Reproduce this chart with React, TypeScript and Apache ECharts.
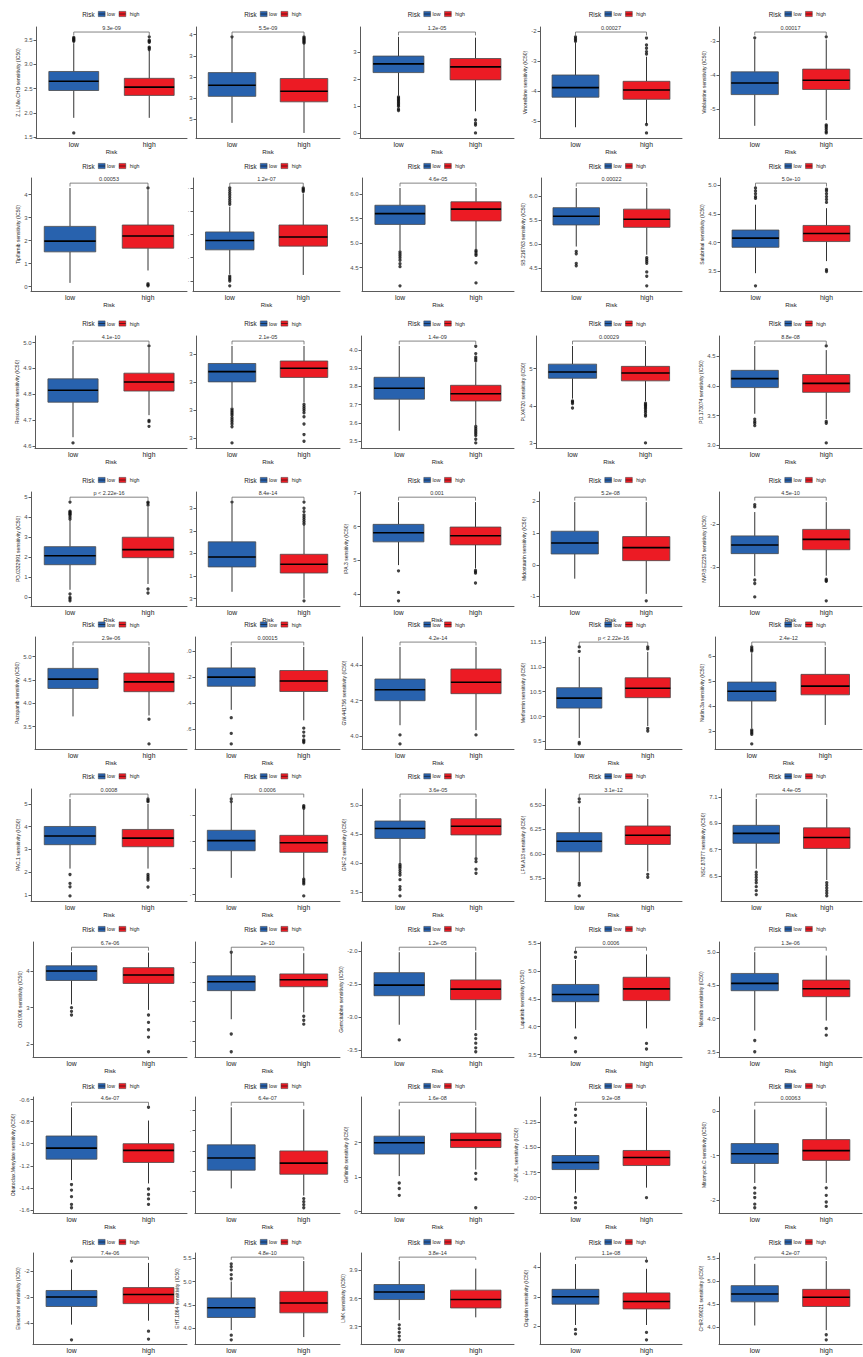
import React, { useEffect, useRef } from "react";
import * as echarts from "echarts";

const BLUE = "#2862AE";
const RED = "#EC1B24";
const FONT = "Liberation Sans, Arial, sans-serif";

const drugNames: string[] = [
  "Z.LLNle.CHO sensitivity (IC50)", "", "", "Vinorelbine sensitivity (IC50)", "Vinblastine sensitivity (IC50)",
  "Tipifarnib sensitivity (IC50)", "", "", "SB.216763 sensitivity (IC50)", "Salubrinal sensitivity (IC50)",
  "Roscovitine sensitivity (IC50)", "", "", "PLX4720 sensitivity (IC50)", "PD.173074 sensitivity (IC50)",
  "PD.0332991 sensitivity (IC50)", "", "IPA.3 sensitivity (IC50)", "Midostaurin sensitivity (IC50)", "NVP.BEZ235 sensitivity (IC50)",
  "Pazopanib sensitivity (IC50)", "", "GW.441756 sensitivity (IC50)", "Metformin sensitivity (IC50)", "Nutlin.3a sensitivity (IC50)",
  "PAC.1 sensitivity (IC50)", "", "GNF.2 sensitivity (IC50)", "LFM.A13 sensitivity (IC50)", "NSC.87877 sensitivity (IC50)",
  "OSI.906 sensitivity (IC50)", "", "Gemcitabine sensitivity (IC50)", "Lapatinib sensitivity (IC50)", "Nilotinib sensitivity (IC50)",
  "Obatoclax.Mesylate sensitivity (IC50)", "", "Gefitinib sensitivity (IC50)", "JNK.9L sensitivity (IC50)", "Mitomycin.C sensitivity (IC50)",
  "Elesclomol sensitivity (IC50)", "EHT.1864 sensitivity (IC50)", "LMK sensitivity (IC50)", "Cisplatin sensitivity (IC50)", "CHIR.99021 sensitivity (IC50)",
];

const pValues: string[] = [
  "9.3e-09", "5.5e-09", "1.2e-05", "0.00027", "0.00017",
  "0.00053", "1.2e-07", "4.6e-05", "0.00022", "5.0e-10",
  "4.1e-10", "2.1e-05", "1.4e-09", "0.00029", "8.8e-08",
  "p < 2.22e-16", "8.4e-14", "0.001", "5.2e-08", "4.5e-10",
  "2.9e-06", "0.00015", "4.2e-14", "p < 2.22e-16", "2.4e-12",
  "0.0008", "0.0006", "3.6e-05", "3.1e-12", "4.4e-05",
  "6.7e-06", "2e-10", "1.2e-05", "0.0006", "1.3e-06",
  "4.6e-07", "6.4e-07", "1.6e-08", "9.2e-08", "0.00063",
  "7.4e-06", "4.8e-10", "3.8e-14", "1.1e-08", "4.2e-07",
];

// [lower whisker, Q1, median, Q3, upper whisker]
const lowBox: number[][] = [
  [1.90, 2.46, 2.65, 2.85, 3.43], [0.81, 2.07, 2.6, 3.2, 4.85], [1.4, 2.25, 2.57, 2.86, 3.57], [-5.21, -4.21, -3.89, -3.47, -2.4], [-5.49, -4.57, -4.23, -3.9, -2.95],
  [0.16, 1.51, 1.98, 2.62, 4.29], [1.29, 2.34, 2.74, 3.11, 4.2], [4.85, 5.38, 5.6, 5.77, 6.12], [4.95, 5.4, 5.58, 5.76, 6.17], [3.47, 3.92, 4.08, 4.22, 4.66],
  [4.635, 4.77, 4.816, 4.86, 4.987], [2.1, 3.01, 3.38, 3.67, 4.3], [3.557, 3.73, 3.79, 3.85, 4.022], [4.19, 4.74, 4.91, 5.12, 5.61], [3.53, 3.97, 4.12, 4.26, 4.67],
  [0.38, 1.63, 2.08, 2.53, 3.85], [1.3, 2.4, 2.84, 3.51, 5.2], [4.86, 5.55, 5.82, 6.07, 6.73], [-0.44, 0.34, 0.69, 1.06, 1.98], [-3.2, -2.68, -2.48, -2.27, -1.72],
  [3.72, 4.32, 4.52, 4.75, 5.21], [-0.45, -0.27, -0.2, -0.13, 0.03], [4.061, 4.2, 4.262, 4.323, 4.505], [9.57, 10.17, 10.37, 10.58, 11.2], [3.11, 4.2, 4.59, 4.96, 6.12],
  [2.16, 3.21, 3.59, 4.01, 5.22], [1.63, 2.65, 3.03, 3.42, 4.45], [4.0, 4.43, 4.6, 4.73, 5.11], [5.72, 6.02, 6.128, 6.216, 6.48], [6.556, 6.749, 6.824, 6.885, 7.085],
  [3.09, 3.74, 4.0, 4.14, 4.51], [4.2, 7.1, 8.0, 8.6, 10.9], [-3.12, -2.68, -2.52, -2.33, -2.02], [3.97, 4.45, 4.58, 4.76, 5.2], [3.82, 4.42, 4.53, 4.68, 5.0],
  [-1.33, -1.14, -1.04, -0.93, -0.67], [2.3, 4.1, 5.3, 6.6, 10.3], [1.03, 1.67, 2.0, 2.19, 2.97], [-1.95, -1.72, -1.65, -1.58, -1.3], [-1.62, -1.18, -0.96, -0.73, 0.04],
  [-4.05, -3.36, -3.0, -2.75, -1.95], [3.96, 4.23, 4.44, 4.65, 5.0], [3.37, 3.59, 3.67, 3.75, 4.0], [2.05, 2.75, 3.0, 3.25, 4.1], [4.04, 4.55, 4.72, 4.9, 5.37],
];

const highBox: number[][] = [
  [1.90, 2.36, 2.53, 2.71, 3.28], [0.33, 1.81, 2.31, 2.92, 4.55], [0.82, 1.98, 2.46, 2.77, 3.54], [-5.1, -4.28, -3.97, -3.68, -2.86], [-5.32, -4.42, -4.15, -3.82, -2.95],
  [0.7, 1.67, 2.2, 2.68, 4.2], [1.26, 2.5, 2.89, 3.41, 4.76], [4.88, 5.45, 5.69, 5.84, 6.12], [4.78, 5.35, 5.52, 5.73, 6.17], [3.68, 4.02, 4.16, 4.3, 4.6],
  [4.72, 4.813, 4.848, 4.882, 4.981], [2.27, 3.17, 3.5, 3.76, 4.3], [3.587, 3.72, 3.76, 3.806, 3.93], [4.12, 4.67, 4.88, 5.06, 5.61], [3.44, 3.89, 4.04, 4.19, 4.6],
  [0.67, 1.98, 2.38, 3.0, 4.5], [1.0, 2.13, 2.52, 2.96, 4.25], [4.76, 5.46, 5.73, 5.99, 6.73], [-0.92, 0.13, 0.54, 0.89, 1.98], [-3.19, -2.59, -2.35, -2.12, -1.49],
  [3.74, 4.25, 4.46, 4.65, 5.21], [-0.53, -0.31, -0.23, -0.15, 0.03], [4.033, 4.24, 4.305, 4.38, 4.505], [9.81, 10.38, 10.57, 10.78, 11.3], [3.24, 4.45, 4.8, 5.27, 6.37],
  [2.16, 3.12, 3.5, 3.88, 5.0], [1.61, 2.59, 2.95, 3.23, 4.2], [4.11, 4.49, 4.64, 4.77, 5.11], [5.82, 6.095, 6.19, 6.284, 6.56], [6.47, 6.71, 6.793, 6.866, 7.085],
  [2.94, 3.66, 3.89, 4.09, 4.5], [4.9, 7.5, 8.2, 8.8, 10.9], [-3.2, -2.74, -2.58, -2.44, -2.02], [3.97, 4.47, 4.68, 4.89, 5.3], [3.97, 4.33, 4.45, 4.58, 4.95],
  [-1.36, -1.17, -1.06, -1.0, -0.79], [1.6, 3.7, 4.8, 6.0, 10.1], [1.22, 1.86, 2.08, 2.28, 3.03], [-1.9, -1.68, -1.6, -1.53, -1.1], [-1.62, -1.11, -0.89, -0.64, 0.09],
  [-3.9, -3.25, -2.9, -2.64, -1.7], [3.81, 4.33, 4.54, 4.79, 5.44], [3.4, 3.5, 3.59, 3.69, 3.92], [2.05, 2.59, 2.84, 3.13, 3.94], [3.94, 4.45, 4.65, 4.82, 5.43],
];

const lowOut: number[][] = [
  [3.47, 3.49, 3.51, 3.53, 3.55, 1.59], [4.9], [1.35, 1.3, 1.25, 1.2, 1.15, 1.1, 1.05, 1.0, 0.9, 0.85], [-2.2, -2.25, -2.3, -2.35], [-2.9],
  [], [5.0, 4.9, 4.8, 4.7, 4.6, 4.5, 4.4, 4.3, 1.21, 1.14, 1.07, 1.0, 0.79], [4.82, 4.78, 4.74, 4.7, 4.65, 4.58, 4.52, 4.13], [4.85, 4.8, 4.6, 4.55], [4.95, 4.9, 4.85, 4.8, 4.77, 3.25],
  [4.613], [2.04, 1.98, 1.92, 1.86, 1.8, 1.72, 1.65, 1.58, 1.5, 1.4, 0.82], [], [4.13, 4.1, 4.06, 3.94], [3.44, 3.4, 3.37, 3.33],
  [4.75, 4.3, 4.25, 4.2, 4.15, 4.1, 4.0, 3.9, 0.17, 0.0, -0.08, -0.17], [5.27], [4.69, 4.05, 3.8], [], [-1.55, -1.6, -3.29, -3.37, -3.68],
  [], [-0.51, -0.63, -0.71], [4.006, 3.955], [11.4, 11.31, 9.48, 9.45], [6.37, 6.3, 6.25, 6.2, 3.04, 2.98, 2.92, 2.86, 2.48],
  [1.9, 1.51, 1.36, 0.96], [4.6, 4.5], [3.98, 3.95, 3.92, 3.88, 3.84, 3.8, 3.72, 3.6, 3.55, 3.44], [6.56, 6.53, 5.7, 5.68, 5.57], [6.53, 6.51, 6.49, 6.47, 6.45, 6.42, 6.39, 6.36],
  [3.0, 2.9, 2.8], [11.0, 2.7, 0.9], [-3.35], [5.25, 5.34, 3.8, 3.55], [3.67, 3.5],
  [-1.37, -1.42, -1.48, -1.55, -1.58], [], [0.83, 0.67, 0.47], [-1.12, -1.18, -1.25, -2.0, -2.05, -2.1], [-1.73, -1.85, -1.95, -2.1, -2.18],
  [-1.63, -4.63], [5.06, 5.15, 5.25, 5.32, 5.38, 3.85, 3.75], [3.32, 3.28, 3.24, 3.2, 3.16], [1.9, 1.75], [],
];

const highOut: number[][] = [
  [3.30, 3.33, 3.35, 3.45, 3.47, 3.49, 3.56], [4.6, 4.65, 4.7, 4.75, 4.8, 4.85, 4.9], [0.5, 0.38, 0.31, 0.02], [-2.24, -2.47, -2.58, -2.69, -2.77, -5.12, -5.4], [-2.87, -5.46, -5.5, -5.55, -5.6, -5.66, -5.7],
  [4.29, 0.12, 0.07, 0.03], [5.0, 4.95, 4.9, 4.85], [4.85, 4.82, 4.78, 4.75, 4.6, 4.19], [4.72, 4.68, 4.64, 4.6, 4.42, 4.33, 4.13], [4.93, 4.9, 4.85, 4.8, 4.75, 4.7, 3.53, 3.5],
  [4.987, 4.7, 4.695, 4.677], [2.2, 2.12, 2.05, 1.98, 1.9, 1.76, 1.5, 1.12, 0.88], [4.02, 3.98, 3.96, 3.95, 3.94, 3.58, 3.57, 3.56, 3.55, 3.54, 3.53, 3.51, 3.49], [4.07, 4.03, 4.0, 3.96, 3.92, 3.87, 3.82, 3.76, 3.72, 3.0], [4.67, 3.4, 3.37, 3.04],
  [4.75, 4.7, 4.6, 0.42, 0.22], [5.27, 5.0, 4.85, 4.7, 4.6, 4.5, 4.4, 4.3, 0.9], [4.7, 4.66, 4.62, 4.33], [-1.14], [-3.27, -3.3, -3.32, -3.77],
  [3.66, 3.13], [-0.59, -0.62, -0.65, -0.68, -0.69, -0.7], [4.006], [11.4, 11.36, 9.76, 9.71], [],
  [5.22, 5.15, 5.1, 1.9, 1.82, 1.74, 1.66, 1.35], [4.35, 4.3, 4.25, 1.58, 1.52, 1.46, 1.4, 0.95], [4.08, 4.03, 3.9, 3.83], [5.79, 5.76], [6.45, 6.43, 6.41, 6.39, 6.37, 6.35],
  [2.8, 2.6, 2.4, 2.2, 1.8], [4.5, 4.1, 3.7], [-3.27, -3.33, -3.4, -3.47, -3.53], [3.7, 3.6], [3.85, 3.75],
  [-0.67, -1.41, -1.46, -1.5, -1.55], [1.3, 1.0, 0.7, 0.4], [1.11, 0.94, 0.11], [-2.0], [-1.73, -1.9, -2.05, -2.15],
  [-4.3, -4.6], [], [], [4.2, 1.8, 1.55], [3.84, 3.73],
];

const yTicks: number[][] = [
  [1.5, 2.0, 2.5, 3.0, 3.5], [1, 2, 3, 4, 5], [0, 1, 2, 3], [-5, -4, -3, -2], [-5, -4, -3],
  [0, 1, 2, 3, 4], [1, 2, 3, 4, 5], [4.5, 5.0, 5.5, 6.0], [4.5, 5.0, 5.5, 6.0], [3.5, 4.0, 4.5, 5.0],
  [4.6, 4.7, 4.8, 4.9, 5.0], [1, 2, 3, 4], [3.5, 3.6, 3.7, 3.8, 3.9, 4.0], [3, 4, 5], [3.0, 3.5, 4.0, 4.5],
  [0, 1, 2, 3, 4, 5], [1, 2, 3, 4, 5], [4, 5, 6, 7], [-1, 0, 1, 2], [-3, -2],
  [3.5, 4.0, 4.5, 5.0], [-0.6, -0.4, -0.2, 0.0], [4.0, 4.2, 4.4], [9.5, 10.0, 10.5, 11.0, 11.5], [3, 4, 5, 6],
  [1, 2, 3, 4, 5], [1, 2, 3, 4], [3.5, 4.0, 4.5, 5.0], [5.75, 6.0, 6.25, 6.5], [6.5, 6.7, 6.9, 7.1],
  [2, 3, 4], [2, 4, 6, 8, 10], [-3.5, -3.0, -2.5, -2.0], [3.5, 4.0, 4.5, 5.0, 5.5], [3.5, 4.0, 4.5, 5.0],
  [-1.6, -1.4, -1.2, -1.0, -0.8, -0.6], [2, 4, 6, 8, 10], [0, 1, 2], [-2.0, -1.75, -1.5, -1.25], [-2, -1, 0],
  [-4, -3, -2], [4.0, 4.5, 5.0, 5.5], [3.3, 3.6, 3.9], [2, 3, 4], [4.0, 4.5, 5.0, 5.5],
];

const yTickText: string[][] = [
  ["1.5", "2.0", "2.5", "3.0", "3.5"], ["5", "3", "3", "3", "4"], ["0", "1", "2", "3"], ["-5", "-4", "-3", "-2"], ["-5", "-4", "-3"],
  ["0", "1", "2", "3", "4"], ["·", "·", "·", "·", "·"], ["4.5", "5.0", "5.5", "6.0"], ["4.5", "5.0", "5.5", "6.0"], ["3.5", "4.0", "4.5", "5.0"],
  ["4.6", "4.7", "4.8", "4.9", "5.0"], ["3", "3", "3", "3"], ["3.5", "3.6", "3.7", "3.8", "3.9", "4.0"], ["3", "4", "5"], ["3.0", "3.5", "4.0", "4.5"],
  ["0", "1", "2", "3", "4", "5"], ["3", "1", "3", "3", "3"], ["4", "5", "6", "7"], ["-1", "0", "1", "2"], ["-3", "-2"],
  ["3.5", "4.0", "4.5", "5.0"], [".6", ".4", ".2", ".0"], ["4.0", "4.2", "4.4"], ["9.5", "10.0", "10.5", "11.0", "11.5"], ["3", "4", "5", "6"],
  ["1", "2", "3", "4", "5"], ["·", "·", "·", "·"], ["3.5", "4.0", "4.5", "5.0"], ["5.75", "6.00", "6.25", "6.50"], ["6.5", "6.7", "6.9", "7.1"],
  ["2", "3", "4"], ["·", "·", "·", "·", "·"], ["-3.5", "-3.0", "-2.5", "-2.0"], ["3.5", "4.0", "4.5", "5.0", "5.5"], ["3.5", "4.0", "4.5", "5.0"],
  ["-1.6", "-1.4", "-1.2", "-1.0", "-0.8", "-0.6"], ["·", "·", "·", "·", "·"], ["0", "1", "2"], ["-2.00", "-1.75", "-1.50", "-1.25"], ["-2", "-1", "0"],
  ["-4", "-3", "-2"], ["4.0", "4.5", "5.0", "5.5"], ["3.3", "3.6", "3.9"], ["2", "3", "4"], ["4.0", "4.5", "5.0", "5.5"],
];

const categories = ["low", "high"];

// layout
const colRight = [187, 340, 514, 682, 862];
const legendCX = [110.5, 272.5, 436, 617, 797];
const titleX = [20, 182, 346, 526, 705];
const rowLegendY = [14, 166, 323.5, 480, 624.5, 776.3, 929, 1086, 1242];
const rowTop = [27, 178, 336, 492, 637, 789, 942, 1097, 1253];
const rowBottom = [138, 291, 448, 606, 749, 901, 1057, 1213, 1344];
const gridLeft = [
  [36, 196, 360, 540, 719],
  [31, 193, 362, 541, 720],
  [35, 196, 361, 536, 719],
  [31, 196, 360, 539, 719],
  [35, 195, 362, 545, 715],
  [31, 195, 362, 545, 721],
  [33, 195, 361, 540, 719],
  [33, 195, 361, 540, 719],
  [33, 195, 361, 540, 719],
];

function buildOption() {
  const grid: any[] = [];
  const xAxis: any[] = [];
  const yAxis: any[] = [];
  const series: any[] = [];
  const graphic: any[] = [];
  const axisColor = "#5a5a5a";
  const lastRow = rowTop.length - 1;

  for (let i = 0; i < drugNames.length; i++) {
    const r = Math.floor(i / 5);
    const c = i % 5;
    const left = gridLeft[r][c];
    const right = colRight[c];
    const top = rowTop[r];
    const bottom = rowBottom[r];
    grid.push({ left, top, width: right - left, height: bottom - top, outerBoundsMode: "none", containLabel: false });

    const all = [...lowBox[i], ...highBox[i], ...lowOut[i], ...highOut[i]];
    const dmin = Math.min(...all);
    const dmax = Math.max(...all);
    const by = dmax + 0.05 * (dmax - dmin);
    const span = by - dmin;
    const amin = dmin - 0.05 * span;
    const amax = by + 0.05 * span;
    const tip = 0.03 * (amax - amin);

    const ticks = yTicks[i];
    const texts = yTickText[i];

    xAxis.push({
      gridIndex: i,
      type: "category",
      data: categories,
      boundaryGap: true,
      axisLine: { onZero: false, lineStyle: { color: axisColor, width: 1 } },
      axisTick: { alignWithLabel: true, length: 2.5, lineStyle: { color: axisColor } },
      axisLabel: { fontSize: 6.8, color: "#1a1a1a", margin: 3, fontFamily: FONT },
      // the bottom row's axis title falls below the page edge in the reference
      name: r === lastRow ? "" : "Risk",
      nameLocation: "middle",
      nameGap: 10,
      nameTextStyle: { fontSize: 6, color: "#1a1a1a", fontFamily: FONT },
    });

    yAxis.push({
      gridIndex: i,
      type: "value",
      min: amin,
      max: amax,
      splitLine: { show: false },
      axisLine: { show: true, onZero: false, lineStyle: { color: axisColor, width: 1 } },
      axisTick: { show: true, length: 2.5, customValues: ticks, lineStyle: { color: axisColor } },
      axisLabel: {
        fontSize: 6,
        color: "#4d4d4d",
        margin: 3.5,
        fontFamily: FONT,
        customValues: ticks,
        formatter: (v: number) => {
          const k = ticks.findIndex((t) => Math.abs(t - v) < 1e-7);
          return k >= 0 ? texts[k] : "";
        },
      },
      name: drugNames[i],
      nameLocation: "middle",
      nameRotate: 90,
      nameGap: Math.max(4, left - titleX[c] - 2.5),
      nameTextStyle: { fontSize: 5, color: "#1a1a1a", fontFamily: FONT },
    });

    const boxData = [
      [0, ...lowBox[i]],
      [1, ...highBox[i]],
    ];
    series.push({
      type: "custom",
      xAxisIndex: i,
      yAxisIndex: i,
      coordinateSystem: "cartesian2d",
      encode: { x: 0, y: [1, 2, 3, 4, 5] },
      data: boxData,
      renderItem: (params: any, api: any) => {
        const x = api.value(0);
        const lo = api.coord([x, api.value(1)]);
        const q1 = api.coord([x, api.value(2)]);
        const md = api.coord([x, api.value(3)]);
        const q3 = api.coord([x, api.value(4)]);
        const hi = api.coord([x, api.value(5)]);
        const bw = api.size([1, 0])[0] * 0.66;
        const fill = x === 0 ? BLUE : RED;
        return {
          type: "group",
          children: [
            { type: "line", shape: { x1: lo[0], y1: lo[1], x2: lo[0], y2: q1[1] }, style: { stroke: "#333", lineWidth: 1 } },
            { type: "line", shape: { x1: hi[0], y1: q3[1], x2: hi[0], y2: hi[1] }, style: { stroke: "#333", lineWidth: 1 } },
            {
              type: "rect",
              shape: { x: q3[0] - bw / 2, y: q3[1], width: bw, height: q1[1] - q3[1] },
              style: { fill, stroke: "#4a4a4a", lineWidth: 0.8 },
            },
            {
              type: "line",
              shape: { x1: md[0] - bw / 2, y1: md[1], x2: md[0] + bw / 2, y2: md[1] },
              style: { stroke: "#000", lineWidth: 1.6 },
            },
          ],
        };
      },
      silent: true,
    });

    const outData = [
      ...lowOut[i].map((v) => [0, v]),
      ...highOut[i].map((v) => [1, v]),
    ];
    series.push({
      type: "scatter",
      xAxisIndex: i,
      yAxisIndex: i,
      data: outData,
      symbolSize: 3.3,
      itemStyle: { color: "#111" },
      silent: true,
    });

    const pText = pValues[i];
    series.push({
      type: "custom",
      xAxisIndex: i,
      yAxisIndex: i,
      coordinateSystem: "cartesian2d",
      encode: { x: 0, y: [1, 2] },
      data: [[0, by, by - tip]],
      renderItem: (params: any, api: any) => {
        const a = api.coord([0, api.value(1)]);
        const b = api.coord([1, api.value(1)]);
        const t = api.coord([0, api.value(2)]);
        return {
          type: "group",
          children: [
            {
              type: "polyline",
              shape: { points: [[a[0], t[1]], [a[0], a[1]], [b[0], b[1]], [b[0], t[1]]] },
              style: { stroke: "#666", lineWidth: 0.8, fill: null },
            },
            {
              type: "text",
              x: (a[0] + b[0]) / 2,
              y: a[1] - 0.8,
              style: {
                text: pText,
                fill: "#333",
                fontSize: 5.5,
                fontFamily: FONT,
                align: "center",
                verticalAlign: "bottom",
                textAlign: "center",
                textVerticalAlign: "bottom",
              },
            },
          ],
        };
      },
      silent: true,
    });

    // legend
    const cx = legendCX[c];
    const ly = rowLegendY[r];
    const txt = (s: string, x: number, size: number) => ({
      type: "text",
      x: cx + x,
      y: ly,
      style: {
        text: s,
        fill: "#222",
        fontSize: size,
        fontFamily: FONT,
        align: "left",
        verticalAlign: "middle",
        textAlign: "left",
        textVerticalAlign: "middle",
      },
      silent: true,
    });
    const key = (x: number, color: string) => [
      {
        type: "rect",
        shape: { x: cx + x, y: ly - 2.6, width: 6.8, height: 5.2 },
        style: { fill: color, stroke: "#444", lineWidth: 0.5 },
        silent: true,
      },
      {
        type: "line",
        shape: { x1: cx + x, y1: ly, x2: cx + x + 6.8, y2: ly },
        style: { stroke: "#111", lineWidth: 0.6 },
        silent: true,
      },
    ];
    graphic.push(txt("Risk", -28.2, 6.3));
    graphic.push(...key(-12.2, BLUE));
    graphic.push(txt(categories[0], -3.4, 5.2));
    graphic.push(...key(8.5, RED));
    graphic.push(txt(categories[1], 19.2, 5.2));
  }

  return {
    animation: false,
    backgroundColor: "#ffffff",
    textStyle: { fontFamily: FONT },
    grid,
    xAxis,
    yAxis,
    series,
    graphic,
  };
}

export default function App() {
  const ref = useRef<HTMLDivElement>(null);
  useEffect(() => {
    document.body.style.margin = "0";
    if (!ref.current) return;
    const chart = echarts.init(ref.current, undefined, { renderer: "svg" });
    chart.setOption(buildOption() as any);
    return () => chart.dispose();
  }, []);
  return <div ref={ref} style={{ width: 863, height: 1357, background: "#fff" }} />;
}
